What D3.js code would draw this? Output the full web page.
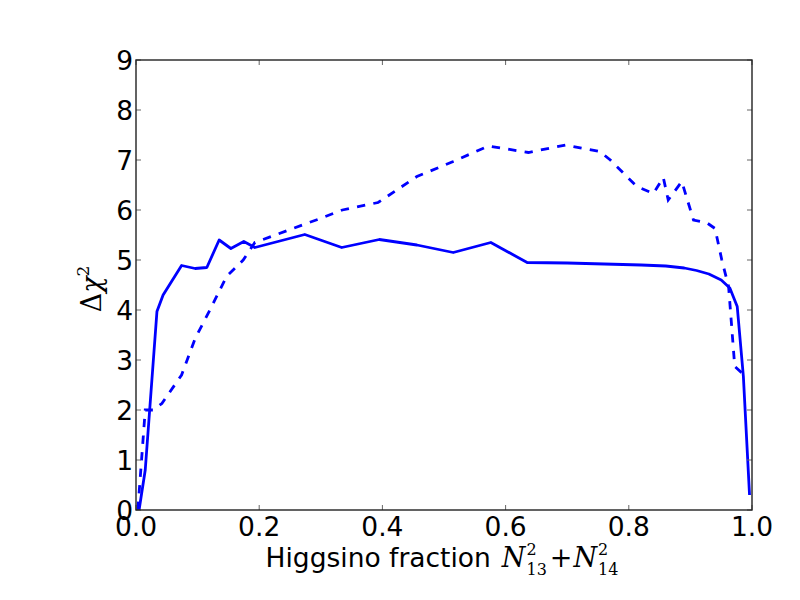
<!DOCTYPE html>
<html>
<head>
<meta charset="utf-8">
<script src="https://cdn.jsdelivr.net/npm/d3@7"></script>
<style>
  body { margin: 0; background: #fff; }
  svg { font-family: "DejaVu Sans", sans-serif; }
</style>
</head>
<body>
<svg id="chart" width="800" height="600"></svg>
<script>
// solid curve
let solidX = [0.005, 0.015, 0.034, 0.044, 0.074, 0.096, 0.115, 0.135, 0.154, 0.175, 0.193, 0.274, 0.334, 0.395, 0.456, 0.515, 0.576, 0.635, 0.70, 0.76, 0.82, 0.86, 0.89, 0.91, 0.93, 0.95, 0.964, 0.976, 0.986, 0.996];
let solidY = [0.0, 0.8, 3.97, 4.3, 4.89, 4.83, 4.85, 5.4, 5.23, 5.37, 5.25, 5.51, 5.25, 5.41, 5.3, 5.15, 5.35, 4.95, 4.94, 4.92, 4.9, 4.88, 4.84, 4.79, 4.72, 4.6, 4.44, 4.07, 2.67, 0.3];
// dashed curve
let dashX = [0.003, 0.015, 0.028, 0.042, 0.074, 0.096, 0.12, 0.147, 0.174, 0.193, 0.299, 0.335, 0.393, 0.456, 0.515, 0.572, 0.637, 0.697, 0.753, 0.77, 0.813, 0.84, 0.856, 0.864, 0.886, 0.905, 0.926, 0.94, 0.951, 0.962, 0.972, 0.992];
let dashY = [0.0, 2.0, 2.0, 2.13, 2.7, 3.43, 4.0, 4.67, 5.0, 5.35, 5.83, 6.0, 6.15, 6.67, 6.97, 7.28, 7.15, 7.3, 7.17, 7.0, 6.47, 6.33, 6.65, 6.2, 6.57, 5.8, 5.75, 5.63, 5.0, 4.47, 2.87, 2.65];
let xTicks = [0.0, 0.2, 0.4, 0.6, 0.8, 1.0];
let yTicks = [0, 1, 2, 3, 4, 5, 6, 7, 8, 9];

let plotLeft = 136, plotRight = 752, plotTop = 60, plotBottom = 510;
let fontSize = 26.5;
let svg = d3.select('#chart');

let x = d3.scaleLinear().domain([0, 1]).range([plotLeft, plotRight]);
let y = d3.scaleLinear().domain([0, 9]).range([plotBottom, plotTop]);

function pairs(xs, ys){
    return xs.map((v, i) => [v, ys[i]]);
}

const line = d3.line()
    .x(d => x(d[0]))
    .y(d => y(d[1]));

svg.append('clipPath').attr('id', 'clip')
    .append('rect')
    .attr('x', plotLeft).attr('y', plotTop)
    .attr('width', plotRight - plotLeft).attr('height', plotBottom - plotTop);

let plot = svg.append('g').attr('clip-path', 'url(#clip)');

plot.append('path')
    .datum(pairs(dashX, dashY))
    .attr('fill', 'none')
    .attr('stroke', '#0000ff')
    .attr('stroke-width', 2.8)
    .attr('stroke-dasharray', '8.3,8.3')
    .attr('d', line);

plot.append('path')
    .datum(pairs(solidX, solidY))
    .attr('fill', 'none')
    .attr('stroke', '#0000ff')
    .attr('stroke-width', 2.8)
    .attr('stroke-linejoin', 'round')
    .attr('d', line);

// ticks inside, on all four sides
let tickLen = 5;
let tg = svg.append('g').attr('stroke', '#666').attr('stroke-width', 1);
xTicks.forEach(t => {
    tg.append('line').attr('x1', x(t)).attr('x2', x(t)).attr('y1', plotBottom).attr('y2', plotBottom - tickLen);
    tg.append('line').attr('x1', x(t)).attr('x2', x(t)).attr('y1', plotTop).attr('y2', plotTop + tickLen);
});
yTicks.forEach(t => {
    tg.append('line').attr('x1', plotLeft).attr('x2', plotLeft + tickLen).attr('y1', y(t)).attr('y2', y(t));
    tg.append('line').attr('x1', plotRight).attr('x2', plotRight - tickLen).attr('y1', y(t)).attr('y2', y(t));
});

svg.append('rect')
    .attr('x', plotLeft).attr('y', plotTop)
    .attr('width', plotRight - plotLeft).attr('height', plotBottom - plotTop)
    .attr('fill', 'none')
    .attr('stroke', '#222')
    .attr('stroke-width', 1.4);

// tick labels
svg.append('g').selectAll('text')
    .data(xTicks)
    .enter().append('text')
    .attr('x', d => x(d))
    .attr('y', plotBottom + 26)
    .attr('text-anchor', 'middle')
    .style('font-size', fontSize + 'px')
    .text(d => d3.format('.1f')(d));

svg.append('g').selectAll('text')
    .data(yTicks)
    .enter().append('text')
    .attr('x', plotLeft - 3)
    .attr('y', d => y(d) + 10)
    .attr('text-anchor', 'end')
    .style('font-size', fontSize + 'px')
    .text(d => d);

// x label: plain text followed by math, laid out piece by piece then centred
let xl = svg.append('g');
let cursor = 0;
function piece(txt, opts){
    let t = xl.append('text')
        .attr('x', cursor + (opts.dx || 0))
        .attr('y', opts.dy || 0)
        .style('font-size', (opts.size || fontSize) + 'px')
        .attr('font-family', opts.family || null)
        .attr('font-style', opts.italic ? 'italic' : null)
        .text(txt);
    return t.node().getComputedTextLength();
}
let serif = 'DejaVu Serif';
cursor += piece('Higgsino fraction', {}) + 11;
cursor += piece('N', {family: serif, italic: true, size: 27});
let w1 = piece('2', {family: serif, size: 16, dx: 1, dy: -12});
let w2 = piece('13', {family: serif, size: 16, dx: 1, dy: 8});
cursor += Math.max(w1, w2) + 4;
cursor += piece('+', {family: serif, size: 27}) + 1;
cursor += piece('N', {family: serif, italic: true, size: 27});
w1 = piece('2', {family: serif, size: 16, dx: 1, dy: -12});
w2 = piece('14', {family: serif, size: 16, dx: 1, dy: 8});
cursor += Math.max(w1, w2) + 1;
xl.attr('transform', `translate(${442 - cursor / 2},567)`);

// y label
let yl = svg.append('text')
    .attr('transform', 'translate(101,289) rotate(-90)')
    .attr('text-anchor', 'middle')
    .attr('font-family', serif)
    .style('font-size', '27px');
yl.append('tspan').text('Δ');
yl.append('tspan').attr('font-style', 'italic').text('χ');
yl.append('tspan').style('font-size', '17px').attr('dy', -12).text('2');
</script>
</body>
</html>
